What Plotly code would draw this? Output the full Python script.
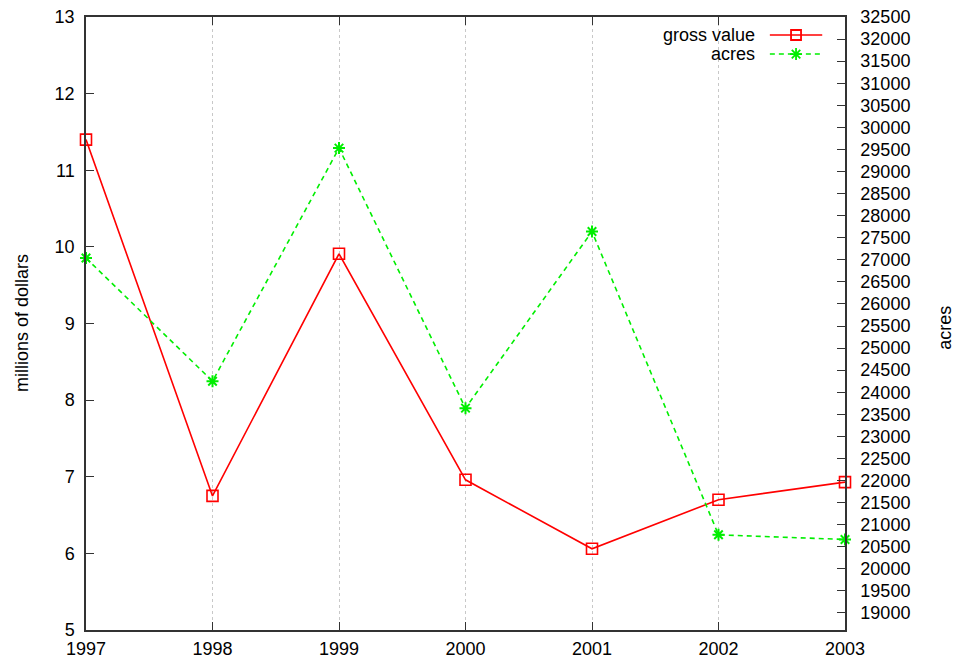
import plotly.graph_objects as go

# Gross value and planted acreage by year
years = [1997, 1998, 1999, 2000, 2001, 2002, 2003]
gross_value = [11.40, 6.75, 9.91, 6.96, 6.06, 6.70, 6.93]   # millions of dollars
acres = [27040, 24250, 29530, 23640, 27640, 20770, 20665]

left_ticks = [5, 6, 7, 8, 9, 10, 11, 12, 13]
right_ticks = list(range(19000, 32501, 500))

RED = "#ff0000"
GREEN = "#00ee00"
FONT = "Liberation Sans, Arial, sans-serif"
FSIZE = 18
AXIS_COLOR = "#333333"

fig = go.Figure()

fig.add_trace(go.Scatter(
    x=years, y=gross_value, name="gross value", mode="lines+markers",
    line=dict(color=RED, width=1.6),
    marker=dict(symbol="square-open", size=11, color=RED, line=dict(width=1.6, color=RED)),
    cliponaxis=False, yaxis="y",
))
fig.add_trace(go.Scatter(
    x=years, y=acres, name="acres", mode="lines+markers",
    line=dict(color=GREEN, width=1.6, dash="5px,4px"),
    marker=dict(symbol="asterisk-open", size=10, color=GREEN, line=dict(width=2, color=GREEN)),
    cliponaxis=False, yaxis="y2",
))

# Key entries drawn in the upper right corner: text to the left of the sample line
key_rows = [("gross value", RED, "solid", "square-open", 0.9706),
            ("acres", GREEN, "5px,4px", "asterisk-open", 0.9396)]
for label, color, dash, symbol, ky in key_rows:
    fig.add_shape(type="line", xref="paper", yref="paper",
                  x0=0.901, x1=0.970, y0=ky, y1=ky,
                  line=dict(color=color, width=1.6, dash=dash))
    fig.add_annotation(x=0.884, y=ky, xref="paper", yref="paper", text=label,
                       showarrow=False, xanchor="right", yanchor="middle",
                       font=dict(family=FONT, size=FSIZE, color="black"))
    fig.add_trace(go.Scatter(
        x=[0.9355], y=[ky], mode="markers", showlegend=False, hoverinfo="skip",
        marker=dict(symbol=symbol, size=10, color=color, line=dict(width=1.8, color=color)),
        xaxis="x3", yaxis="y3", cliponaxis=False,
    ))

fig.update_layout(
    width=960, height=661,
    margin=dict(l=86, r=115, t=17, b=31),
    paper_bgcolor="white", plot_bgcolor="white",
    showlegend=False,
    font=dict(family=FONT, size=FSIZE, color="black"),
    xaxis=dict(
        range=[1997, 2003], tickmode="array", tickvals=years,
        ticktext=[str(y) for y in years],
        ticks="inside", ticklen=8, tickcolor=AXIS_COLOR, tickwidth=1.2,
        showline=True, linecolor=AXIS_COLOR, linewidth=1.5, mirror="ticks",
        showgrid=True, gridcolor="#c8c8c8", griddash="dot", gridwidth=1,
        zeroline=False, tickfont=dict(size=FSIZE), automargin=False,
        ticklabelstandoff=2,
    ),
    yaxis=dict(
        range=[5, 13], tickmode="array", tickvals=left_ticks,
        ticktext=[str(v) for v in left_ticks],
        ticks="inside", ticklen=8, tickcolor=AXIS_COLOR, tickwidth=1.2,
        showline=True, linecolor=AXIS_COLOR, linewidth=1.5,
        showgrid=False, zeroline=False, tickfont=dict(size=FSIZE),
        ticklabelstandoff=6, automargin=False,
    ),
    yaxis2=dict(
        range=[18614, 32500], tickmode="array", tickvals=right_ticks,
        ticktext=[str(v) for v in right_ticks],
        overlaying="y", side="right",
        ticks="inside", ticklen=8, tickcolor=AXIS_COLOR, tickwidth=1.2,
        showline=True, linecolor=AXIS_COLOR, linewidth=1.5,
        showgrid=False, zeroline=False, tickfont=dict(size=FSIZE),
        ticklabelstandoff=10, automargin=False,
    ),
    xaxis3=dict(range=[0, 1], overlaying="x", anchor="y3", visible=False, fixedrange=True),
    yaxis3=dict(range=[0, 1], overlaying="y", anchor="x3", visible=False, fixedrange=True),
)

fig.add_annotation(x=-0.0843, y=0.5008, xref="paper", yref="paper",
                   text="millions of dollars", textangle=-90, showarrow=False,
                   xanchor="center", yanchor="middle",
                   font=dict(family=FONT, size=FSIZE, color="black"))
fig.add_annotation(x=1.1318, y=0.493, xref="paper", yref="paper",
                   text="acres", textangle=-90, showarrow=False,
                   xanchor="center", yanchor="middle",
                   font=dict(family=FONT, size=FSIZE, color="black"))

fig.write_html("out.html")
